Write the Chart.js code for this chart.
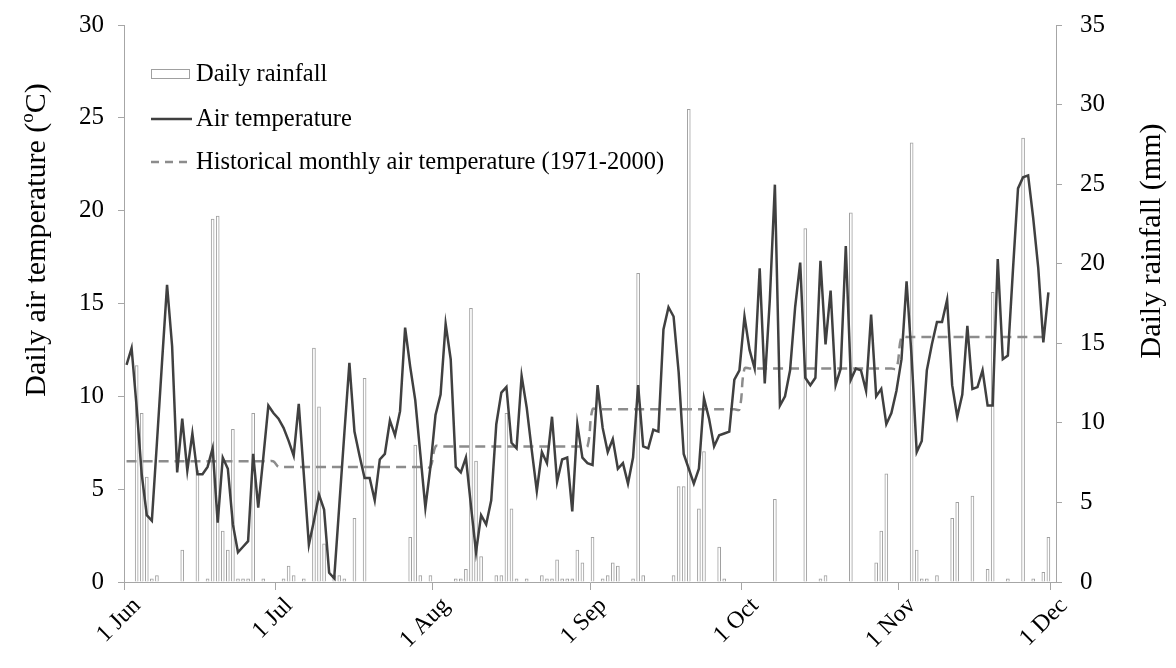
<!DOCTYPE html>
<html><head><meta charset="utf-8">
<script src="https://cdn.jsdelivr.net/npm/chart.js@4.4.0/dist/chart.umd.min.js"></script>
<style>html,body{margin:0;padding:0;background:#fff;}#wrap{width:1176px;height:668px;}</style>
</head><body><div id="wrap"><canvas id="c" width="1176" height="668"></canvas></div>
<script>
// ---- data (one value per day, 1 Jun .. 30 Nov) ----
const temperature = [
 11.7,12.6,9.4,5.8,3.6,3.3,7.5,11.8,16.0,12.7,
 5.9,8.8,6.0,8.0,5.8,5.8,6.2,7.2,3.2,6.7,
 6.1,3.1,1.6,1.9,2.2,6.9,4.0,6.7,9.5,9.1,
 8.8,8.3,7.6,6.8,9.6,5.8,2.0,3.3,4.7,3.9,
 0.5,0.2,4.1,8.0,11.8,8.1,6.8,5.6,5.6,4.4,
 6.6,6.9,8.7,7.9,9.2,13.7,11.6,9.8,6.9,4.0,
 6.2,9.0,10.1,13.9,12.0,6.2,5.9,6.7,4.1,1.6,
 3.6,3.1,4.4,8.5,10.2,10.5,7.5,7.2,11.1,9.4,
 7.1,4.9,7.0,6.4,8.9,5.4,6.6,6.7,3.8,8.5,
 6.7,6.4,6.3,10.6,8.3,7.0,7.7,6.1,6.4,5.3,
 6.7,10.6,7.3,7.2,8.2,8.1,13.6,14.8,14.3,11.3,
 6.9,6.1,5.3,6.1,9.9,8.8,7.3,7.9,8.0,8.1,
 10.9,11.4,14.3,12.5,11.5,16.9,10.7,15.2,21.4,9.5,
 10.0,11.4,14.8,17.2,11.0,10.6,11.0,17.3,12.8,15.7,
 10.6,11.5,18.1,10.9,11.5,11.4,10.3,14.4,10.0,10.4,
 8.5,9.1,10.3,12.0,16.2,12.1,7.0,7.6,11.4,12.8,
 14.0,14.0,15.2,10.6,8.9,10.1,13.8,10.4,10.5,11.4,
 9.5,9.5,17.4,12.0,12.2,16.8,21.2,21.8,21.9,19.6,
 16.9,12.9,15.6
];
const rainfall = [
 0,0,13.6,10.6,6.6,0.2,0.4,0,0,0,
 0,2.0,0,0,7.0,0,0.2,22.8,23.0,3.2,
 2.0,9.6,0.2,0.2,0.2,10.6,0,0.2,0,0,
 0,0.2,1.0,0.4,0,0.2,0,14.7,11.0,2.4,
 0,0.4,0.4,0.2,0,4.0,0,12.8,0,0,
 0,0,0,0,0,0,2.8,8.6,0.4,0,
 0.4,0,0,0,0,0.2,0.2,0.8,17.2,7.6,
 1.6,0,0,0.4,0.4,10.6,4.6,0.2,0,0.2,
 0,0,0.4,0.2,0.2,1.4,0.2,0.2,0.2,2.0,
 1.2,0,2.8,0,0.2,0.4,1.2,1.0,0,0,
 0.2,19.4,0.4,0,0,0,0,0,0.4,6.0,
 6.0,29.7,0,4.6,8.2,0,0,2.2,0.2,0,
 0,0,0,0,0,0,0,0,5.2,0,
 0,0,0,0,22.2,0,0,0.2,0.4,0,
 0,0,0,23.2,0,0,0,0,1.2,3.2,
 6.8,0,0,0,0,27.6,2.0,0.2,0.2,0,
 0.4,0,0,4.0,5.0,0,0,5.4,0,0,
 0.8,18.2,0,0,0.2,0,0,27.9,0,0.2,
 0,0.6,2.8
];
const monthLengths = [30,31,31,30,31,30];
const historicalMonthly = [6.5,6.2,7.3,9.3,11.5,13.2];
const tickDays = [0,30,61,92,122,153,183];
const tickLabels = ['1 Jun','1 Jul','1 Aug','1 Sep','1 Oct','1 Nov','1 Dec'];
const seriesNames = ['Daily rainfall','Air temperature','Historical monthly air temperature (1971-2000)'];

// ---- build ----
const historical = [];
monthLengths.forEach((n,m)=>{ for(let i=0;i<n;i++) historical.push(historicalMonthly[m]); });
const toPts = arr => arr.map((v,i)=>({x:i+0.5, y:v}));
const rainPts = rainfall.map((v,i)=>({x:i+0.5, y: v>0 ? v : null}));

const FONT = "'Liberation Serif','Times New Roman',serif";
const AXIS = '#a6a6a6';
const AREA = {left:124, top:25, right:1056, bottom:582};

const overlay = {
  id:'overlay',
  afterDraw(chart){
    const ctx = chart.ctx;
    ctx.save();
    ctx.fillStyle = '#000';
    ctx.save();
    ctx.translate(37, 240);
    ctx.rotate(-Math.PI/2);
    const big = '30px '+FONT, small = '19px '+FONT;
    ctx.font = big; const w1 = ctx.measureText('Daily air temperature (').width;
    ctx.font = small; const w2 = ctx.measureText('o').width;
    ctx.font = big; const w3 = ctx.measureText('C)').width;
    let x0 = -(w1+w2+w3)/2;
    ctx.textBaseline = 'middle'; ctx.textAlign = 'left';
    ctx.font = big; ctx.fillText('Daily air temperature (', x0, 0);
    ctx.font = small; ctx.fillText('o', x0+w1, -9);
    ctx.font = big; ctx.fillText('C)', x0+w1+w2, 0);
    ctx.restore();
    ctx.save();
    ctx.translate(1152, 241);
    ctx.rotate(-Math.PI/2);
    ctx.font = big; ctx.textAlign='center'; ctx.textBaseline='middle';
    ctx.fillText('Daily rainfall (mm)', 0, 0);
    ctx.restore();
    const rows = [74,119,162];
    const sx0 = 151, sx1 = 189, tx = 196;
    ctx.font = '24.5px '+FONT; ctx.textBaseline='middle'; ctx.textAlign='left';
    ctx.strokeStyle = '#a0a0a0'; ctx.lineWidth = 1; ctx.fillStyle='#fff';
    ctx.fillRect(sx0+0.5, rows[0]-4.5, sx1-sx0, 9);
    ctx.strokeRect(sx0+0.5, rows[0]-4.5, sx1-sx0, 9);
    ctx.strokeStyle = '#404040'; ctx.lineWidth = 2.5; ctx.setLineDash([]);
    ctx.beginPath(); ctx.moveTo(sx0, rows[1]); ctx.lineTo(sx1+3, rows[1]); ctx.stroke();
    ctx.strokeStyle = '#8c8c8c'; ctx.setLineDash([8,6]);
    ctx.beginPath(); ctx.moveTo(sx0, rows[2]); ctx.lineTo(sx1+4, rows[2]); ctx.stroke();
    ctx.setLineDash([]);
    ctx.fillStyle = '#000';
    seriesNames.forEach((t,i)=>ctx.fillText(t, tx, rows[i]+1));
    ctx.restore();
  }
};

const chart = new Chart(document.getElementById('c'), {
  data:{
    datasets:[
      {type:'line', label:seriesNames[1], data:toPts(temperature), yAxisID:'y', xAxisID:'x',
       borderColor:'#404040', borderWidth:2.5, pointRadius:0, tension:0, order:1},
      {type:'line', label:seriesNames[2], data:toPts(historical), yAxisID:'y', xAxisID:'x',
       borderColor:'#8c8c8c', borderWidth:2.5, borderDash:[10,6], pointRadius:0, tension:0.4, order:2},
      {type:'bar', label:seriesNames[0], data:rainPts, yAxisID:'y2', xAxisID:'x',
       backgroundColor:'#ffffff', borderColor:'#a0a0a0', borderWidth:1, barThickness:3, order:3}
    ]
  },
  options:{
    responsive:false, animation:false, devicePixelRatio:1,
    layout:{autoPadding:false, padding:{top:AREA.top,left:0,right:0,bottom:0}},
    plugins:{legend:{display:false}, tooltip:{enabled:false}},
    scales:{
      x:{type:'linear', min:0, max:184, offset:false,
         afterBuildTicks:s=>{ s.ticks = tickDays.map(v=>({value:v})); },
         ticks:{autoSkip:false, minRotation:45, maxRotation:45, labelOffset:13, padding:2,
                color:'#000', font:{family:FONT, size:24},
                callback:(v)=>tickLabels[tickDays.indexOf(v)]},
         grid:{offset:false, drawOnChartArea:false, drawTicks:true, tickLength:8, color:AXIS},
         border:{color:AXIS, width:1},
         afterFit:s=>{ s.height = 668-AREA.bottom; s.paddingLeft = 0; s.paddingRight = 0; }},
      y:{position:'left', min:0, max:30,
         ticks:{stepSize:5, color:'#000', padding:14, font:{family:FONT, size:25}},
         grid:{drawOnChartArea:false, drawTicks:true, tickLength:6, color:AXIS},
         border:{color:AXIS, width:1},
         afterFit:s=>{ s.width = AREA.left; s.paddingTop = 0; s.paddingBottom = 0; }},
      y2:{position:'right', min:0, max:35,
         ticks:{stepSize:5, color:'#000', padding:18, font:{family:FONT, size:25}},
         grid:{drawOnChartArea:false, drawTicks:true, tickLength:6, color:AXIS},
         border:{color:AXIS, width:1},
         afterFit:s=>{ s.width = 1176-AREA.right; s.paddingTop = 0; s.paddingBottom = 0; }}
    }
  },
  plugins:[overlay]
});
// make sure the plot area sits where the reference has it
const ca = chart.chartArea, pad = chart.options.layout.padding;
const dTop = ca.top - AREA.top, dL = ca.left - AREA.left, dR = AREA.right - ca.right, dB = AREA.bottom - ca.bottom;
if (dTop || dL || dR || dB) {
  pad.top = AREA.top - dTop; pad.left = -dL; pad.right = -dR; pad.bottom = -dB;
  chart.update('none');
}
</script></body></html>
